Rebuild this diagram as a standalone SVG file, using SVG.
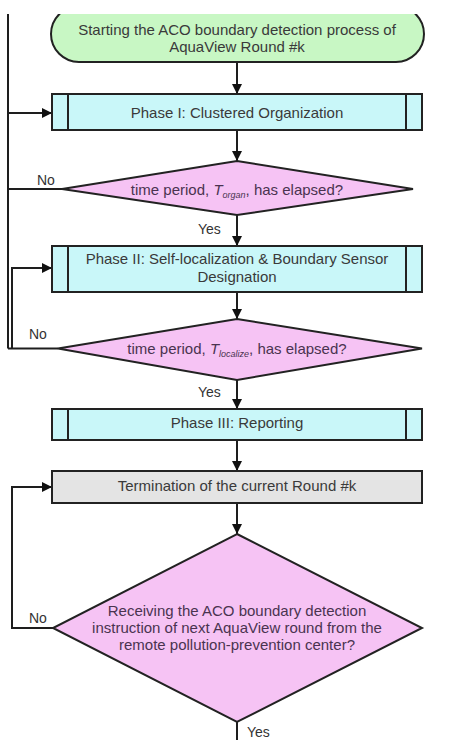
<svg xmlns="http://www.w3.org/2000/svg" width="454" height="740" viewBox="0 0 454 740">
<defs>
<style>
.t{font-family:"Liberation Sans",Arial,sans-serif;font-size:15px;fill:#3a3a3a;text-anchor:middle}
.q{font-family:"Liberation Sans",Arial,sans-serif;font-size:15px;fill:#4a3350;text-anchor:middle}
.l{font-family:"Liberation Sans",Arial,sans-serif;font-size:14px;fill:#333}
.s{fill:none;stroke:#1e1e1e;stroke-width:2}
.box{stroke:#222;stroke-width:2}
.proc{fill:#c9f7f9}
.dec{fill:#f6c3f4}
.sub{font-style:italic;font-size:9px}
</style>
<marker id="ah" viewBox="0 0 10 10" refX="10" refY="5" markerWidth="10" markerHeight="10" markerUnits="userSpaceOnUse" orient="auto">
<path d="M0,0 L10,5 L0,10 z" fill="#111"/>
</marker>
<clipPath id="topclip"><rect x="0" y="14" width="454" height="726"/></clipPath>
</defs>
<rect width="454" height="740" fill="#fff"/>

<g id="connectors">
<path class="s" d="M237,62 V94" marker-end="url(#ah)"/>
<path class="s" d="M237,130 V161" marker-end="url(#ah)"/>
<path class="s" d="M237,215 V246" marker-end="url(#ah)"/>
<path class="s" d="M237,292 V319" marker-end="url(#ah)"/>
<path class="s" d="M237,380 V409" marker-end="url(#ah)"/>
<path class="s" d="M237,440 V471" marker-end="url(#ah)"/>
<path class="s" d="M237,503 V534" marker-end="url(#ah)"/>
<path class="s" d="M237,722 V740"/>
<path class="s" d="M8,14 V348.5"/>
<path class="s" d="M62,189 H8"/>
<path class="s" d="M8,113 H52" marker-end="url(#ah)"/>
<path class="s" d="M58,348.5 H8"/>
<path class="s" d="M12,348.5 V268 H52" marker-end="url(#ah)"/>
<path class="s" d="M53,628 H12 V487 H52" marker-end="url(#ah)"/>
<text class="l" x="37" y="185">No</text>
<text class="l" x="198" y="234">Yes</text>
<text class="l" x="29" y="339">No</text>
<text class="l" x="198" y="397">Yes</text>
<text class="l" x="29" y="623">No</text>
<text class="l" x="247" y="737">Yes</text>
</g>

<g id="start" clip-path="url(#topclip)">
<rect class="box" x="51" y="6" width="373" height="56" rx="28" ry="28" fill="#c8f7c4"/>
<text class="t" x="237" y="35">Starting the ACO boundary detection process of</text>
<text class="t" x="237" y="52">AquaView Round #k</text>
</g>

<g id="phase1">
<rect class="box proc" x="52" y="94" width="370" height="36"/>
<path class="box" d="M68,94 V130 M406,94 V130"/>
<text class="t" x="237" y="118">Phase I: Clustered Organization</text>
</g>

<g id="decision1">
<polygon class="box dec" points="237,161 413,189 237,215 62,189"/>
<text class="q" x="237" y="195">time period, <tspan font-style="italic">T</tspan><tspan class="sub" dy="3">organ</tspan><tspan dy="-3">, has elapsed?</tspan></text>
</g>

<g id="phase2">
<rect class="box proc" x="52" y="246" width="370" height="46"/>
<path class="box" d="M68,246 V292 M406,246 V292"/>
<text class="t" x="237" y="264">Phase II: Self-localization &amp; Boundary Sensor</text>
<text class="t" x="237" y="282">Designation</text>
</g>

<g id="decision2">
<polygon class="box dec" points="237,319 422,348.5 237,380 58,348.5"/>
<text class="q" x="237" y="354">time period, <tspan font-style="italic">T</tspan><tspan class="sub" dy="3">localize</tspan><tspan dy="-3">, has elapsed?</tspan></text>
</g>

<g id="phase3">
<rect class="box proc" x="52" y="409" width="370" height="31"/>
<path class="box" d="M68,409 V440 M406,409 V440"/>
<text class="t" x="237" y="428">Phase III: Reporting</text>
</g>

<g id="termination">
<rect class="box" x="52" y="471" width="370" height="32" fill="#e4e4e4"/>
<text class="t" x="237" y="491">Termination of the current Round #k</text>
</g>

<g id="decision3">
<polygon class="box dec" points="237,534 422,628 237,722 53,628"/>
<text class="q" x="237" y="616">Receiving the ACO boundary detection</text>
<text class="q" x="237" y="633">instruction of next AquaView round from the</text>
<text class="q" x="237" y="650">remote pollution-prevention center?</text>
</g>
</svg>
